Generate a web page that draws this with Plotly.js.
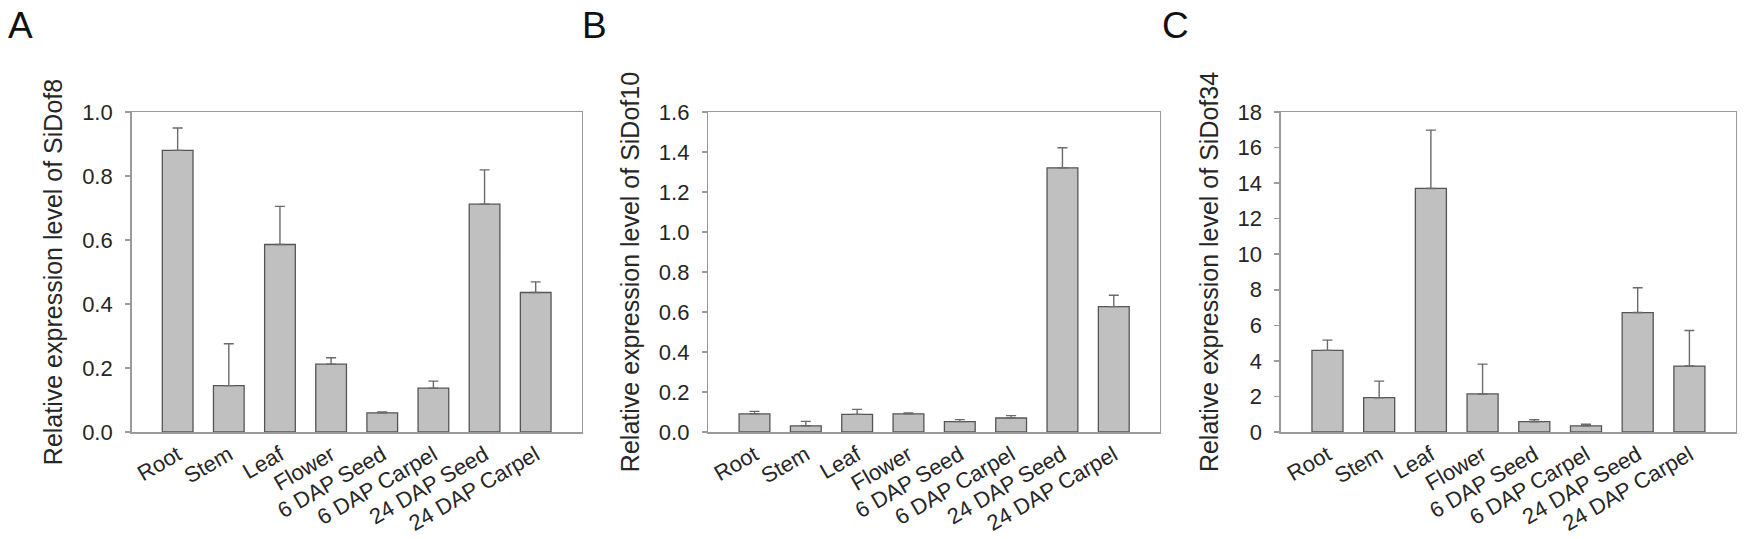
<!DOCTYPE html>
<html>
<head>
<meta charset="utf-8">
<script src="https://cdn.plot.ly/plotly-3.0.1.min.js"></script>
<style>
  html, body { margin: 0; padding: 0; background: #fff; }
  #chart { width: 1748px; height: 539px; }
</style>
</head>
<body>
<div id="chart"></div>
<script>
// ── Data ──────────────────────────────────────────────────────────────────
const tissues = ['Root', 'Stem', 'Leaf', 'Flower', '6 DAP Seed', '6 DAP Carpel', '24 DAP Seed', '24 DAP Carpel'];

const dof8Mean  = [0.88, 0.145, 0.586, 0.212, 0.060, 0.137, 0.712, 0.436];
const dof8Err   = [0.07, 0.131, 0.119, 0.020, 0.003, 0.022, 0.107, 0.033];

const dof10Mean = [0.091, 0.031, 0.088, 0.091, 0.052, 0.070, 1.321, 0.627];
const dof10Err  = [0.012, 0.022, 0.025, 0.004, 0.010, 0.012, 0.100, 0.057];

const dof34Mean = [4.59, 1.93, 13.70, 2.14, 0.58, 0.35, 6.72, 3.71];
const dof34Err  = [0.58, 0.93, 3.28, 1.68, 0.11, 0.09, 1.39, 2.00];

const panelLetters = ['A', 'B', 'C'];
const yTitles = ['Relative expression level of SiDof8',
                 'Relative expression level of SiDof10',
                 'Relative expression level of SiDof34'];

// ── Styling ───────────────────────────────────────────────────────────────
const FONT = 'Liberation Sans, Arial, sans-serif';
const TEXT = '#262626';
const AXIS = '#9a9a9a';
const BAR_FILL = '#c0c0c0';
const BAR_LINE = '#555555';
const ERR_COLOR = '#6a6a6a';

function barTrace(means, errs, n) {
  const sfx = n === 1 ? '' : String(n);
  return {
    type: 'bar',
    x: tissues,
    y: means,
    xaxis: 'x' + sfx,
    yaxis: 'y' + sfx,
    marker: { color: BAR_FILL, line: { color: BAR_LINE, width: 1.3 } },
    error_y: {
      type: 'data',
      symmetric: false,
      array: errs,
      arrayminus: errs.map(() => 0),   // upper whisker only
      color: ERR_COLOR,
      thickness: 1.4,
      width: 5,
    },
    hoverinfo: 'none',
  };
}

function xAxis(domain, anchor) {
  return {
    domain: domain,
    anchor: anchor,
    type: 'category',
    range: [-0.9, 7.9],
    showline: true,
    mirror: true,
    linecolor: AXIS,
    linewidth: 1.5,
    ticks: '',
    showgrid: false,
    zeroline: false,
    tickangle: -30,
    tickfont: { family: FONT, size: 22, color: TEXT },
    fixedrange: true,
  };
}

function yAxis(domain, anchor, range, dtick, fmt, title) {
  return {
    domain: domain,
    anchor: anchor,
    range: range,
    dtick: dtick,
    tick0: 0,
    tickformat: fmt,
    showline: true,
    mirror: true,
    linecolor: AXIS,
    linewidth: 1.5,
    ticks: 'outside',
    ticklen: 5,
    tickwidth: 1.5,
    tickcolor: AXIS,
    ticklabelstandoff: 8,
    showgrid: false,
    zeroline: false,
    tickfont: { family: FONT, size: 22, color: TEXT },
    title: { text: title, standoff: 12, font: { family: FONT, size: 25, color: TEXT } },
    fixedrange: true,
  };
}

const yDom = [0.1985, 0.7922];
const xDoms = [[0.0753, 0.3328], [0.4052, 0.6636], [0.7328, 0.9931]];
const letterX = [0.0034, 0.3318, 0.6636];

const layout = {
  width: 1748,
  height: 539,
  margin: { t: 0, r: 0, b: 0, l: 0 },
  paper_bgcolor: '#ffffff',
  plot_bgcolor: '#ffffff',
  showlegend: false,
  bargap: 0.4,
  font: { family: FONT, color: TEXT },
  xaxis:  xAxis(xDoms[0], 'y'),
  yaxis:  yAxis(yDom, 'x',  [0, 1.0], 0.2, '.1f', yTitles[0]),
  xaxis2: xAxis(xDoms[1], 'y2'),
  yaxis2: yAxis(yDom, 'x2', [0, 1.6], 0.2, '.1f', yTitles[1]),
  xaxis3: xAxis(xDoms[2], 'y3'),
  yaxis3: yAxis(yDom, 'x3', [0, 18], 2, 'd', yTitles[2]),
  annotations: panelLetters.map((t, i) => ({
    text: t,
    xref: 'paper', yref: 'paper',
    x: letterX[i], y: 0.953,
    xanchor: 'left', yanchor: 'middle',
    showarrow: false,
    font: { family: FONT, size: 37, color: '#111111' },
  })),
};

const traces = [
  barTrace(dof8Mean, dof8Err, 1),
  barTrace(dof10Mean, dof10Err, 2),
  barTrace(dof34Mean, dof34Err, 3),
];

Plotly.newPlot('chart', traces, layout, { displayModeBar: false, staticPlot: true });
</script>
</body>
</html>
